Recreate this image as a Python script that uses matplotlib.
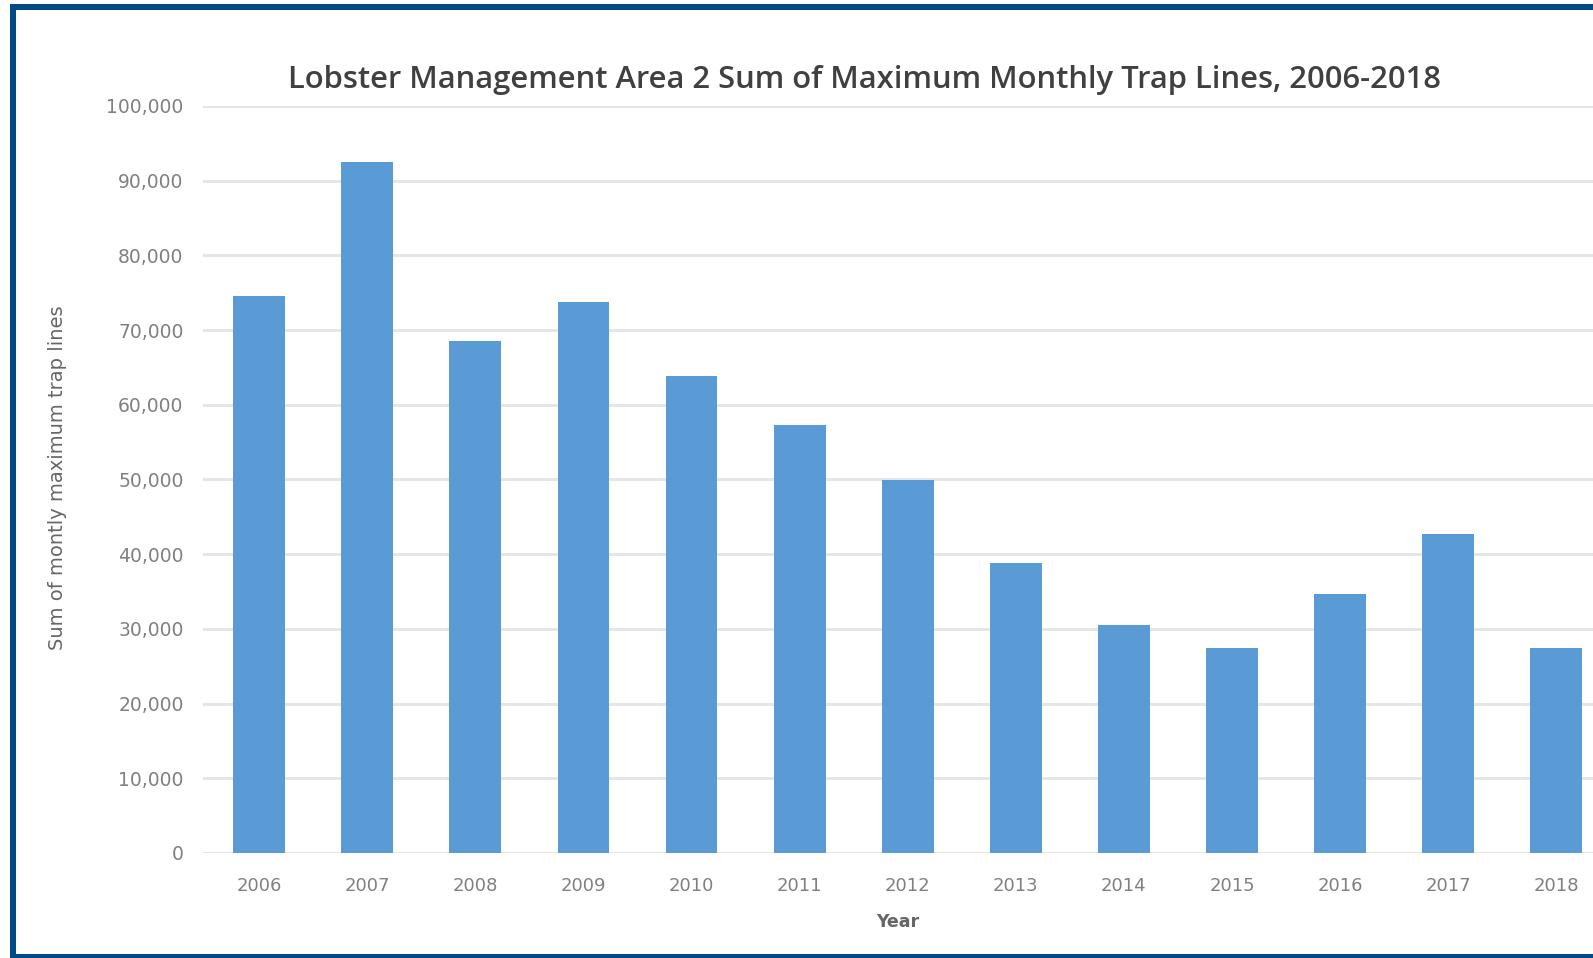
import matplotlib
matplotlib.use("Agg")
import matplotlib.pyplot as plt
from matplotlib.patches import Rectangle
from matplotlib.ticker import FuncFormatter

years = ["2006", "2007", "2008", "2009", "2010", "2011", "2012",
         "2013", "2014", "2015", "2016", "2017", "2018"]
trap_lines = [74500, 92500, 68500, 73800, 63800, 57300, 49900,
              38800, 30500, 27500, 34700, 42700, 27500]
y_ticks = [0, 10000, 20000, 30000, 40000, 50000, 60000, 70000, 80000, 90000, 100000]

W, H = 1593, 958
fig = plt.figure(figsize=(W / 100, H / 100), dpi=100)
fig.patch.set_facecolor("white")

def px(x0, y0top, x1, y1top):
    return [x0 / W, 1 - y1top / H, (x1 - x0) / W, (y1top - y0top) / H]

ax = fig.add_axes(px(203, 106, 1593, 853))
x = list(range(len(years)))
ax.bar(x, trap_lines, width=0.48, color="#5b9bd5", zorder=3)
ax.set_xlim(-0.52, 12.34)
ax.set_ylim(0, 100000)
ax.set_yticks(y_ticks)
ax.yaxis.set_major_formatter(FuncFormatter(lambda v, p: f"{int(v):,}"))
ax.set_xticks(x)
ax.set_xticklabels(years)
ax.grid(axis="y", color="#e6e6e6", linewidth=2.2, zorder=0)
ax.set_axisbelow(True)
for s in ax.spines.values():
    s.set_visible(False)
ax.tick_params(axis="both", length=0, labelsize=13, labelcolor="#808080")
ax.tick_params(axis="y", labelsize=13.5, pad=14)
ax.tick_params(axis="x", pad=17)
ax.set_xlabel("Year", fontsize=12.5, fontweight="bold", color="#666666", labelpad=13)

fig.text(58 / W, 1 - 478 / H, "Sum of montly maximum trap lines", rotation=90,
         ha="center", va="center", fontsize=14, color="#666666")
fig.text(865 / W, 1 - 80 / H,
         "Lobster Management Area 2 Sum of Maximum Monthly Trap Lines, 2006-2018",
         ha="center", va="center", fontsize=22.3, color="#404040",
         family="Open Sans", fontweight="semibold")

border = "#004a85"
for r in [px(10, 4, 16, 958), px(10, 4, 1593, 10), px(10, 954, 1593, 958)]:
    fig.add_artist(Rectangle((r[0], r[1]), r[2], r[3], transform=fig.transFigure,
                             facecolor=border, edgecolor="none", zorder=10))

fig.savefig("out.png", dpi=100)
